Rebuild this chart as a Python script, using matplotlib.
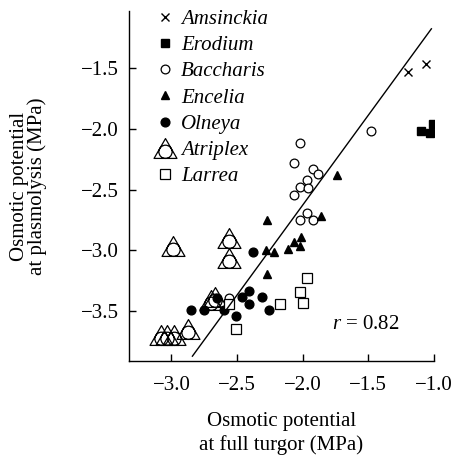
import matplotlib.pyplot as plt
from matplotlib.path import Path
import numpy as np

plt.rcParams['font.family'] = ['Liberation Serif', 'DejaVu Serif']
plt.rcParams['mathtext.fontset'] = 'custom'
plt.rcParams['mathtext.rm'] = 'Liberation Serif'
plt.rcParams['mathtext.it'] = 'Liberation Serif:italic'

# Osmotic potential at full turgor (x) vs at plasmolysis (y), MPa
amsinckia_x = [-1.20, -1.06]
amsinckia_y = [-1.53, -1.47]
erodium_x = [-1.10, -1.01, -1.03]
erodium_y = [-2.02, -1.96, -2.03]
baccharis_x = [-1.48, -2.02, -2.07, -1.92, -1.88, -1.97, -2.02, -1.96, -2.07, -1.97, -2.02, -1.92, -2.56]
baccharis_y = [-2.02, -2.12, -2.28, -2.33, -2.37, -2.42, -2.48, -2.49, -2.54, -2.69, -2.75, -2.75, -3.39]
encelia_x = [-1.74, -2.27, -1.86, -2.28, -2.22, -2.11, -2.07, -2.01, -2.02, -2.27]
encelia_y = [-2.38, -2.75, -2.72, -3.00, -3.01, -2.99, -2.93, -2.89, -2.96, -3.19]
olneya_x = [-2.38, -2.41, -2.46, -2.41, -2.31, -2.26, -2.51, -2.60, -2.65, -2.75, -2.85]
olneya_y = [-3.01, -3.33, -3.38, -3.44, -3.38, -3.49, -3.54, -3.49, -3.39, -3.49, -3.49]
atriplex_x = [-2.99, -2.56, -2.56, -2.70, -2.67, -2.87, -2.98, -3.03, -3.08]
atriplex_y = [-2.96, -2.90, -3.06, -3.41, -3.38, -3.65, -3.70, -3.70, -3.70]
larrea_x = [-1.97, -2.02, -2.00, -2.17, -2.56, -2.51]
larrea_y = [-3.23, -3.34, -3.43, -3.44, -3.44, -3.65]

# regression line
fit_slope = 1.48
fit_intercept = 0.333
fit_x = np.array([-2.84, -1.02])
r_value = 0.82

# equilateral triangle with inscribed circle, for Atriplex
h = np.sqrt(3)
tri = Path([(0, h / 2), (-1, -h / 2), (1, -h / 2), (0, h / 2)],
           [Path.MOVETO, Path.LINETO, Path.LINETO, Path.CLOSEPOLY])
circ = Path.circle(center=(0, -h / 6), radius=h / 3)
tri_circ = Path.make_compound_path(tri, circ)

fig = plt.figure(figsize=(4.55, 4.57), dpi=100)
ax = fig.add_axes([129 / 455, 1 - 361 / 457, 305 / 455, 350 / 457])

k = dict(linestyle='none', color='black')
ax.plot(amsinckia_x, amsinckia_y, marker='x', ms=5.5, mew=1.0, label='Amsinckia', **k)
ax.plot(erodium_x, erodium_y, marker='s', ms=5.5, label='Erodium', **k)
ax.plot(baccharis_x, baccharis_y, marker='o', ms=6.3, mfc='white', mew=0.9, label='Baccharis', **k)
ax.plot(encelia_x, encelia_y, marker='^', ms=5.5, label='Encelia', **k)
ax.plot(olneya_x, olneya_y, marker='o', ms=6.3, label='Olneya', **k)
ax.plot(atriplex_x, atriplex_y, marker=tri_circ, ms=16.5, mfc='none', mew=0.9, label='Atriplex', **k)
ax.plot(larrea_x, larrea_y, marker='s', ms=6.8, mfc='white', mew=0.9, label='Larrea', **k)

ax.plot(fit_x, fit_slope * fit_x + fit_intercept, color='black', lw=1.0)
ax.text(-1.78, -3.645, f'$r$ = {r_value}', fontsize=15, va='baseline')

ax.set_xlim(-3.323, -1.0)
ax.set_ylim(-3.91, -1.03)
ax.set_xticks([-3.0, -2.5, -2.0, -1.5, -1.0])
ax.set_yticks([-1.5, -2.0, -2.5, -3.0, -3.5])
ax.xaxis.set_major_formatter(plt.FuncFormatter(lambda v, p: f'{v:.1f}'.replace('-', '\u2212')))
ax.yaxis.set_major_formatter(plt.FuncFormatter(lambda v, p: f'{v:.1f}'.replace('-', '\u2212')))
ax.tick_params(direction='in', length=5, width=1.0, labelsize=15)
ax.tick_params(axis='x', pad=11)
ax.tick_params(axis='y', pad=7.5)
for s in ['top', 'right']:
    ax.spines[s].set_visible(False)
for s in ['left', 'bottom']:
    ax.spines[s].set_linewidth(1.0)

ax.set_xlabel('Osmotic potential\nat full turgor (MPa)', fontsize=15, labelpad=12, linespacing=1.25)
ax.set_ylabel('Osmotic potential\nat plasmolysis (MPa)', fontsize=15, labelpad=24, linespacing=0.9)

ax.legend(loc='upper left', bbox_to_anchor=(0.084, 1.005), frameon=False,
          prop={'style': 'italic', 'size': 15}, handlelength=1.0, handletextpad=0.27,
          labelspacing=0.32, borderaxespad=0, borderpad=0)

fig.savefig('out.png', dpi=100)
